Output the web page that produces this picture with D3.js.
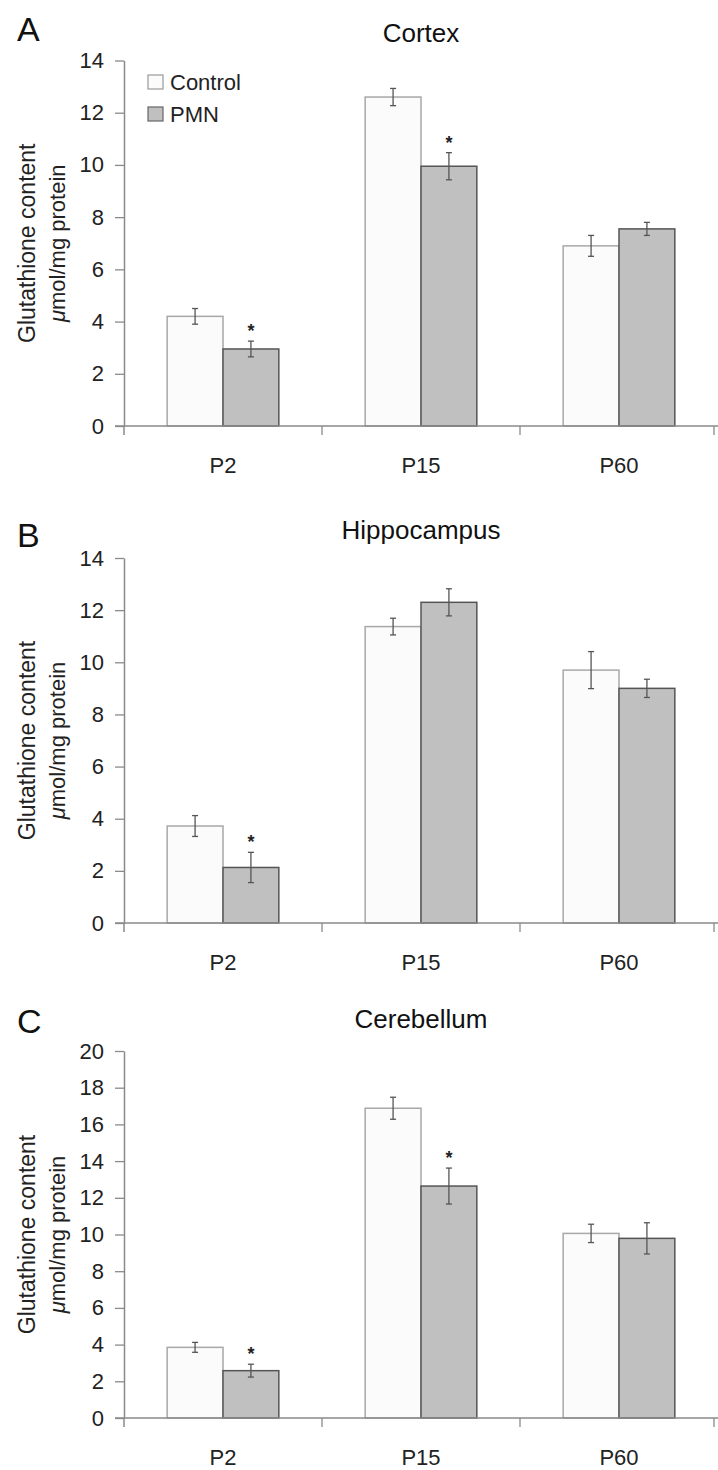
<!DOCTYPE html>
<html><head><meta charset="utf-8">
<script src="https://cdn.jsdelivr.net/npm/d3@7"></script>
<style>
body{margin:0;background:#fff;}
svg{display:block;font-family:"Liberation Sans",Arial,sans-serif;}
</style></head>
<body>
<script>
// ---- data ----
const categories = ["P2", "P15", "P60"];
const series = ["Control", "PMN"];

const cortexControl = [4.2, 12.6, 6.9];
const cortexControlErr = [0.3, 0.33, 0.4];
const cortexPMN = [2.95, 9.95, 7.55];
const cortexPMNErr = [0.3, 0.52, 0.25];
const cortexStars = [true, true, false];

const hippoControl = [3.72, 11.37, 9.7];
const hippoControlErr = [0.4, 0.32, 0.71];
const hippoPMN = [2.13, 12.3, 9.0];
const hippoPMNErr = [0.58, 0.52, 0.35];
const hippoStars = [true, false, false];

const cerebControl = [3.85, 16.88, 10.06];
const cerebControlErr = [0.27, 0.6, 0.5];
const cerebPMN = [2.58, 12.64, 9.79];
const cerebPMNErr = [0.35, 0.98, 0.85];
const cerebStars = [true, true, false];

const ticks14 = [0, 2, 4, 6, 8, 10, 12, 14];
const ticks20 = [0, 2, 4, 6, 8, 10, 12, 14, 16, 18, 20];

const panels = [
  {letter: "A", title: "Cortex", control: cortexControl, controlErr: cortexControlErr, pmn: cortexPMN, pmnErr: cortexPMNErr, stars: cortexStars, max: 14, ticks: ticks14, top: 60.5, bottom: 426, legend: true},
  {letter: "B", title: "Hippocampus", control: hippoControl, controlErr: hippoControlErr, pmn: hippoPMN, pmnErr: hippoPMNErr, stars: hippoStars, max: 14, ticks: ticks14, top: 558, bottom: 923, legend: false},
  {letter: "C", title: "Cerebellum", control: cerebControl, controlErr: cerebControlErr, pmn: cerebPMN, pmnErr: cerebPMNErr, stars: cerebStars, max: 20, ticks: ticks20, top: 1051, bottom: 1418, legend: false}
];

const W = 718, H = 1470;
const svg = d3.select("body").append("svg").attr("width", W).attr("height", H);

const axisX = 124, axisRight = 718;
const fills = {Control: "#fbfbfb", PMN: "#c0c0c0"};
const strokes = {Control: "#a8a8a8", PMN: "#555"};

const x0 = d3.scaleBand().domain(categories).range([axisX, axisRight]).padding(0);
const bw = x0.bandwidth();
const x1 = d3.scaleBand().domain(series).range([bw * 0.218, bw * 0.782]).padding(0);

panels.forEach(p => {
  const g = svg.append("g");
  const y = d3.scaleLinear().domain([0, p.max]).range([p.bottom, p.top]);

  // panel letter
  g.append("text").attr("x", 17).attr("y", p.top - 20 + (p.letter === "A" ? 0 : (p.letter === "B" ? 9 : 2)))
    .attr("font-size", 34).attr("fill", "#111").text(p.letter);
  // title
  g.append("text").attr("x", 421).attr("y", p.top - (p.letter === "C" ? 23 : 19))
    .attr("text-anchor", "middle").attr("font-size", 26).attr("fill", "#111").text(p.title);

  // y axis
  const yAxis = d3.axisLeft(y).tickValues(p.ticks).tickSize(9).tickPadding(11).tickSizeOuter(0);
  const ya = g.append("g").attr("transform", `translate(${axisX},0)`).call(yAxis);
  ya.select(".domain").attr("stroke", "#8a8a8a").attr("stroke-width", 1.5);
  ya.selectAll(".tick line").attr("stroke", "#8a8a8a").attr("stroke-width", 1.3);
  ya.selectAll(".tick text").attr("font-size", 22).attr("fill", "#222").attr("font-family", "Liberation Sans, Arial, sans-serif");
  // axis extends slightly below zero
  g.append("line").attr("x1", axisX).attr("x2", axisX).attr("y1", y(0)).attr("y2", y(0) + 9)
    .attr("stroke", "#8a8a8a").attr("stroke-width", 1.5);

  // y title
  const cy = (p.top + p.bottom) / 2;
  g.append("text").attr("transform", `translate(35,${cy}) rotate(-90)`).attr("text-anchor", "middle")
    .attr("font-size", 23).attr("fill", "#222").text("Glutathione content");
  const t2 = g.append("text").attr("transform", `translate(65,${cy}) rotate(-90)`).attr("text-anchor", "middle")
    .attr("font-size", 22).attr("fill", "#222");
  t2.append("tspan").attr("font-style", "italic").text("\u03BC");
  t2.append("tspan").text("mol/mg protein");

  // bars
  const data = [];
  categories.forEach((c, i) => {
    data.push({cat: c, s: "Control", v: p.control[i], e: p.controlErr[i], star: false});
    data.push({cat: c, s: "PMN", v: p.pmn[i], e: p.pmnErr[i], star: p.stars[i]});
  });

  g.selectAll("rect.bar").data(data).join("rect").attr("class", "bar")
    .attr("x", d => x0(d.cat) + x1(d.s))
    .attr("y", d => y(d.v))
    .attr("width", x1.bandwidth())
    .attr("height", d => y(0) - y(d.v))
    .attr("fill", d => fills[d.s])
    .attr("stroke", d => strokes[d.s])
    .attr("stroke-width", 1.5);

  // x axis
  const xa = g.append("g").attr("transform", `translate(0,${y(0)})`);
  xa.append("line").attr("x1", axisX - 9).attr("x2", axisRight).attr("y1", 0).attr("y2", 0)
    .attr("stroke", "#8a8a8a").attr("stroke-width", 1.5);
  const bounds = categories.map(c => x0(c)).concat([x0(categories[categories.length - 1]) + bw - 4]);
  xa.selectAll("line.xt").data(bounds.slice(1)).join("line").attr("class", "xt")
    .attr("x1", d => d).attr("x2", d => d).attr("y1", 0).attr("y2", 9)
    .attr("stroke", "#8a8a8a").attr("stroke-width", 1.3);
  xa.selectAll("text.xl").data(categories).join("text").attr("class", "xl")
    .attr("x", d => x0(d) + bw / 2).attr("y", 47)
    .attr("text-anchor", "middle").attr("font-size", 22).attr("fill", "#222").text(d => d);

  // error bars
  const cx = d => x0(d.cat) + x1(d.s) + x1.bandwidth() / 2;
  const eg = g.append("g").attr("stroke", "#555").attr("stroke-width", 1.3);
  eg.selectAll("line.ev").data(data).join("line").attr("class", "ev")
    .attr("x1", cx).attr("x2", cx).attr("y1", d => y(d.v + d.e)).attr("y2", d => y(d.v - d.e));
  eg.selectAll("line.et").data(data).join("line").attr("class", "et")
    .attr("x1", d => cx(d) - 3).attr("x2", d => cx(d) + 3).attr("y1", d => y(d.v + d.e)).attr("y2", d => y(d.v + d.e));
  eg.selectAll("line.eb").data(data).join("line").attr("class", "eb")
    .attr("x1", d => cx(d) - 3).attr("x2", d => cx(d) + 3).attr("y1", d => y(d.v - d.e)).attr("y2", d => y(d.v - d.e));

  // significance stars
  g.selectAll("text.star").data(data.filter(d => d.star)).join("text").attr("class", "star")
    .attr("x", cx).attr("y", d => y(d.v + d.e) - 14 + 10)
    .attr("text-anchor", "middle").attr("font-size", 18).attr("font-weight", "bold").attr("fill", "#222").text("*");

  // legend
  if (p.legend) {
    const lg = g.append("g");
    series.forEach((s, i) => {
      lg.append("rect").attr("x", 148).attr("y", 75 + i * 32).attr("width", 15).attr("height", 14)
        .attr("fill", fills[s]).attr("stroke", s === "PMN" ? "#666" : "#999").attr("stroke-width", 1.2);
      lg.append("text").attr("x", 170).attr("y", 90 + i * 32).attr("font-size", 22).attr("fill", "#222").text(s);
    });
  }
});
</script>
</body></html>
